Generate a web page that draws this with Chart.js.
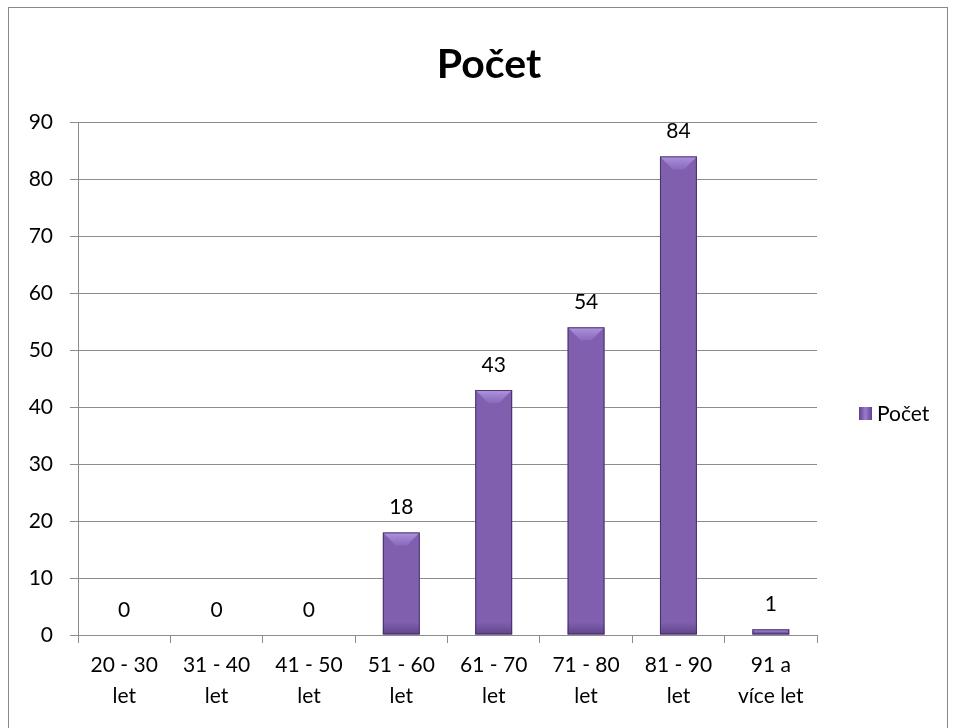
<!DOCTYPE html>
<html>
<head>
<meta charset="utf-8">
<script src="https://cdn.jsdelivr.net/npm/chart.js@4/dist/chart.umd.min.js"></script>
<style>
  html, body { margin: 0; padding: 0; background: #fff; }
  #frame { position: absolute; left: 8px; top: 7px; width: 940px; height: 760px; border: 1px solid #8a8a8a; box-sizing: border-box; }
  #wrap { position: absolute; left: 0; top: 0; width: 956px; height: 728px; }
</style>
</head>
<body>
<div id="frame"></div>
<div id="wrap"><canvas id="c" width="956" height="728"></canvas></div>
<script>
const categories = [
  ["20 - 30", "let"], ["31 - 40", "let"], ["41 - 50", "let"], ["51 - 60", "let"],
  ["61 - 70", "let"], ["71 - 80", "let"], ["81 - 90", "let"], ["91 a", "více let"]
];
const seriesName = "Počet";
const counts = [0, 0, 0, 18, 43, 54, 84, 1];
const yTicks = [0, 10, 20, 30, 40, 50, 60, 70, 80, 90];

const FONT = "Lato, 'Open Sans', 'Liberation Sans', sans-serif";
const FS = 21;
const GRID = "#8c8c8c";

function barFill(ctx) {
  const chart = ctx.chart;
  const el = chart.getDatasetMeta(ctx.datasetIndex).data[ctx.dataIndex];
  if (!el || !isFinite(el.x)) return "#7f5fae";
  const w = el.width || 37;
  const g = chart.ctx.createLinearGradient(el.x - w / 2, 0, el.x + w / 2, 0);
  g.addColorStop(0, "#4f3578");
  g.addColorStop(0.1, "#7858aa");
  g.addColorStop(0.5, "#8464b6");
  g.addColorStop(0.9, "#7858aa");
  g.addColorStop(1, "#4d3475");
  return g;
}

// bevelled top, shaded base and value labels for each bar
const barDecor = {
  id: "barDecor",
  afterDatasetsDraw(chart) {
    const c = chart.ctx;
    const meta = chart.getDatasetMeta(0);
    meta.data.forEach((el, i) => {
      const w = el.width, l = el.x - w / 2, r = el.x + w / 2, t = el.y, b = el.base;
      const h = b - t;
      if (h > 2) {
        const bev = Math.min(13, h / 2);
        c.save();
        const tg = c.createLinearGradient(0, t, 0, t + bev);
        tg.addColorStop(0, "rgba(185,160,230,0.85)");
        tg.addColorStop(1, "rgba(150,120,205,0.5)");
        c.fillStyle = tg;
        c.beginPath();
        c.moveTo(l, t); c.lineTo(r, t); c.lineTo(r - bev, t + bev); c.lineTo(l + bev, t + bev); c.closePath();
        c.fill();
        const sh = Math.min(12, h / 2);
        const bg = c.createLinearGradient(0, b - sh, 0, b);
        bg.addColorStop(0, "rgba(40,20,70,0)");
        bg.addColorStop(1, "rgba(40,20,70,0.35)");
        c.fillStyle = bg;
        c.fillRect(l, b - sh, w, sh);
        c.strokeStyle = "rgba(55,35,90,0.8)";
        c.lineWidth = 1;
        c.strokeRect(l + 0.5, t + 0.5, w - 1, h - 1);
        c.restore();
      }
      c.save();
      c.fillStyle = "#000";
      c.font = FS + "px " + FONT;
      c.textAlign = "center";
      c.textBaseline = "middle";
      c.fillText(String(counts[i]), el.x, t - 25);
      c.restore();
    });
  }
};

// legend entry to the right of the plot
const sideLegend = {
  id: "sideLegend",
  afterDraw(chart) {
    const c = chart.ctx;
    const x = 859, y = 413;
    c.save();
    const g = c.createLinearGradient(x, 0, x + 13, 0);
    g.addColorStop(0, "#5e4290"); g.addColorStop(0.5, "#9a7cca"); g.addColorStop(1, "#5e4290");
    c.fillStyle = g;
    c.fillRect(x, y - 6, 13, 13);
    c.fillStyle = "#000";
    c.font = FS + "px " + FONT;
    c.textAlign = "left";
    c.textBaseline = "middle";
    c.fillText(chart.data.datasets[0].label, x + 18, y + 1);
    c.restore();
  }
};

new Chart(document.getElementById("c"), {
  type: "bar",
  data: {
    labels: categories,
    datasets: [{
      label: seriesName,
      data: counts,
      backgroundColor: barFill,
      borderWidth: 0,
      categoryPercentage: 1,
      barPercentage: 0.4
    }]
  },
  options: {
    responsive: false,
    animation: false,
    devicePixelRatio: 1,
    layout: { padding: { top: 10, right: 0, bottom: 0, left: 22 } },
    plugins: {
      legend: { display: false },
      tooltip: { enabled: false },
      title: {
        display: true,
        text: seriesName,
        color: "#000",
        font: { family: FONT, size: 41, weight: "bold", lineHeight: 1.2 },
        padding: { top: 30, bottom: 33 }
      }
    },
    scales: {
      x: {
        offset: true,
        grid: { offset: true, drawOnChartArea: false, drawTicks: true, tickLength: 8, color: GRID },
        border: { display: true, color: GRID },
        ticks: { color: "#000", font: { family: FONT, size: FS, lineHeight: 1.5 }, padding: 6, maxRotation: 0, autoSkip: false },
        afterFit(s) { s.height = 93; }
      },
      y: {
        min: 0, max: 90,
        afterBuildTicks(s) { s.ticks = yTicks.map(v => ({ value: v })); },
        grid: { color: GRID, tickLength: 8 },
        border: { display: true, color: GRID },
        ticks: { color: "#000", font: { family: FONT, size: FS }, padding: 17 },
        afterFit(s) { s.width = 56; }
      },
      // reserves the band on the right where the legend entry sits
      side: {
        axis: "y",
        position: "right",
        display: true,
        grid: { display: false, drawTicks: false },
        border: { display: false },
        ticks: { display: false },
        afterFit(s) { s.width = 139; }
      }
    }
  },
  plugins: [barDecor, sideLegend]
});
</script>
</body>
</html>
